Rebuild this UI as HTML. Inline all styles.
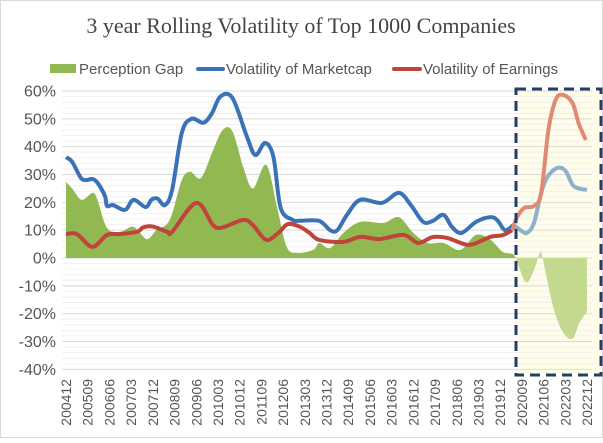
<!DOCTYPE html>
<html><head><meta charset="utf-8"><style>
html,body{margin:0;padding:0;background:#fff}
body{width:603px;height:438px;overflow:hidden;font-family:"Liberation Sans",sans-serif}
</style></head><body>
<svg id="chart" width="603" height="438" xmlns="http://www.w3.org/2000/svg">
<rect x="0.5" y="0.5" width="602" height="437" fill="#fff" stroke="#d9d9d9"/>
<text x="301" y="33" text-anchor="middle" font-family="Liberation Serif, serif" font-size="22" fill="#444">3 year Rolling Volatility of Top 1000 Companies</text>
<g font-size="15" fill="#555">
<g><rect x="50" y="64" width="26" height="9" fill="#92b951"/><text x="79" y="74">Perception Gap</text></g>
<g><line x1="198" y1="69" x2="223" y2="69" stroke="#3a72b8" stroke-width="4" stroke-linecap="round"/><text x="226" y="74">Volatility of Marketcap</text></g>
<g><line x1="394" y1="69" x2="420" y2="69" stroke="#c0443b" stroke-width="4" stroke-linecap="round"/><text x="423" y="74">Volatility of Earnings</text></g>
</g>
<g id="plot"></g>
</svg>
<script>
const yTicks=[60,50,40,30,20,10,0,-10,-20,-30,-40];
const xLabels=["200412","200509","200606","200703","200712","200809","200906","201003","201012","201109","201206","201303","201312","201409","201506","201603","201612","201709","201806","201903","201912","202009","202106","202203","202212"];
const mcMonths=[0,2.5,6,8,12,16,17,19.5,24.5,28,33,35.5,38,41,44,48,52,57,60.5,64,69,75,78.5,82.5,86,89,94,97,105,109.5,112.5,116.5,122,131,138,143,148,152,156.5,160,164,170,176,179,182,185.5,187.5,191,194,197,199.5,203.5,207,210,212.5,216];
const mcValues=[36.2,34.6,29,28,28,22.6,18.7,19,17.3,20.9,18.3,21,21.3,19,24.5,44.9,50,48.6,52,58,57.5,43.6,37,41.3,36.3,18,13.7,13.4,13.3,10,10,15.5,20.9,19.8,23.4,19,13,13.3,15.5,11.2,9,13,14.7,13.4,10,11.8,10.6,9,12.6,23.4,29,32.3,31.4,26.3,25,24.5];
const erMonths=[0,4.5,11,17,22.5,29.5,32,36,42,44,54,61,65,73.5,77.5,83,88,92,97,101,105,115,122,130,140,146,152,158,165,169,176,181,185,187,190,194,197,200,203,206,210,212.5,215.5];
const erValues=[8.6,8.6,4,8.3,8.6,9.4,11,11.3,9.4,9.4,19.8,11.8,11,13.7,11.8,6.5,9,12.2,11.2,9,6.5,5.8,7.6,6.8,8.3,5.4,7.5,7.2,5,5,7.6,8.2,10,14.7,18,18.7,23.4,46,56.8,58.6,55.7,48.5,42.4];
const gapMonths=[0,2.5,6.5,11,13,17,22.5,28,33.5,37.5,43,48,51.5,56,61,65,69,73.5,77.5,83,87.5,91.5,96,102.5,105,109.5,115,122,131.5,138,144,150,156.5,163.5,170,176,181,185,186.5,190.5,193.5,196.7,197.6,202,206,210,213,216];
const gapValues=[27.3,25,20.9,23.4,21,10.8,9.4,11.2,6.8,10,13.7,28,31,28.8,38.8,46,45.5,32.7,25,33.5,18.3,4,1.8,2.9,5.4,3.6,9,13,12.6,14.7,9,5.4,5.4,2.9,8.3,6.5,2.2,1.5,0,-8.6,-5.4,2.2,0,-17.6,-26.6,-29,-23,-19.4];
const SPLIT=186.5;
const X=m=>66+m*(521/216);
const Y=v=>258-v*(167/60);
const NS="http://www.w3.org/2000/svg";
const plot=document.getElementById('plot');
function mk(tag,attrs,parent){const e=document.createElementNS(NS,tag);for(const k in attrs)e.setAttribute(k,attrs[k]);(parent||plot).appendChild(e);return e;}
function smooth(pts){
  let d='M'+pts[0][0]+','+pts[0][1];
  for(let i=0;i<pts.length-1;i++){
    const p0=pts[i-1]||pts[i],p1=pts[i],p2=pts[i+1],p3=pts[i+2]||p2;
    const c1=[p1[0]+(p2[0]-p0[0])/6,p1[1]+(p2[1]-p0[1])/6];
    const c2=[p2[0]-(p3[0]-p1[0])/6,p2[1]-(p3[1]-p1[1])/6];
    d+='C'+c1[0]+','+c1[1]+' '+c2[0]+','+c2[1]+' '+p2[0]+','+p2[1];
  }
  return d;
}
const hl=mk('rect',{x:516,y:89,width:85,height:286,fill:'#fffde9'});


for(let v=-40;v<=60;v+=2){
  const g=mk('line',{x1:62,x2:592,y1:Y(v),y2:Y(v),stroke:(v%10===0)?'#d9d9d9':'#f0f0f0','stroke-width':1});
  
  
}
yTicks.forEach(v=>{
  const t=mk('text',{x:56,y:Y(v)+5.5,'text-anchor':'end','font-size':16,fill:'#555'});
  t.textContent=v+'%';
  
  
});
xLabels.forEach((l,i)=>{
  const x=X(i*9);
  const t=mk('text',{x:0,y:0,'text-anchor':'end','font-size':14,fill:'#555',transform:`translate(${x+5},379) rotate(-90)`});
  t.textContent=l;
  
  
});
function sel(ms,vs,from,to){const p=[];for(let i=0;i<ms.length;i++){if(ms[i]>=from&&ms[i]<=to)p.push([X(ms[i]),Y(vs[i])]);}return p;}
function areaPath(ms,vs,from,to){
  const pts=sel(ms,vs,from,to);
  let d=smooth(pts);
  d+='L'+pts[pts.length-1][0]+','+Y(0)+'L'+pts[0][0]+','+Y(0)+'Z';return d;
}
const a1=mk('path',{d:areaPath(gapMonths,gapValues,0,SPLIT),fill:'#92b951'});


const a2=mk('path',{d:areaPath(gapMonths,gapValues,SPLIT,999),fill:'#c3d98f'});


const splitIdx=(ms)=>{let i=0;while(ms[i]<SPLIT)i++;return ms[i-1];};
const b1=mk('path',{d:smooth(sel(mcMonths,mcValues,0,SPLIT)),fill:'none',stroke:'#3a72b8','stroke-width':4,'stroke-linejoin':'round'});


const b2=mk('path',{d:smooth(sel(mcMonths,mcValues,splitIdx(mcMonths),999)),fill:'none',stroke:'#8db0cb','stroke-width':4,'stroke-linejoin':'round'});


const r1=mk('path',{d:smooth(sel(erMonths,erValues,0,SPLIT)),fill:'none',stroke:'#c0443b','stroke-width':4,'stroke-linejoin':'round'});


const r2=mk('path',{d:smooth(sel(erMonths,erValues,splitIdx(erMonths),999)),fill:'none',stroke:'#e08a74','stroke-width':4,'stroke-linejoin':'round'});


const box=mk('rect',{x:516,y:89,width:85,height:286,fill:'none',stroke:'#1f3f66','stroke-width':3,'stroke-dasharray':'10,6'});


</script>
</body></html>
